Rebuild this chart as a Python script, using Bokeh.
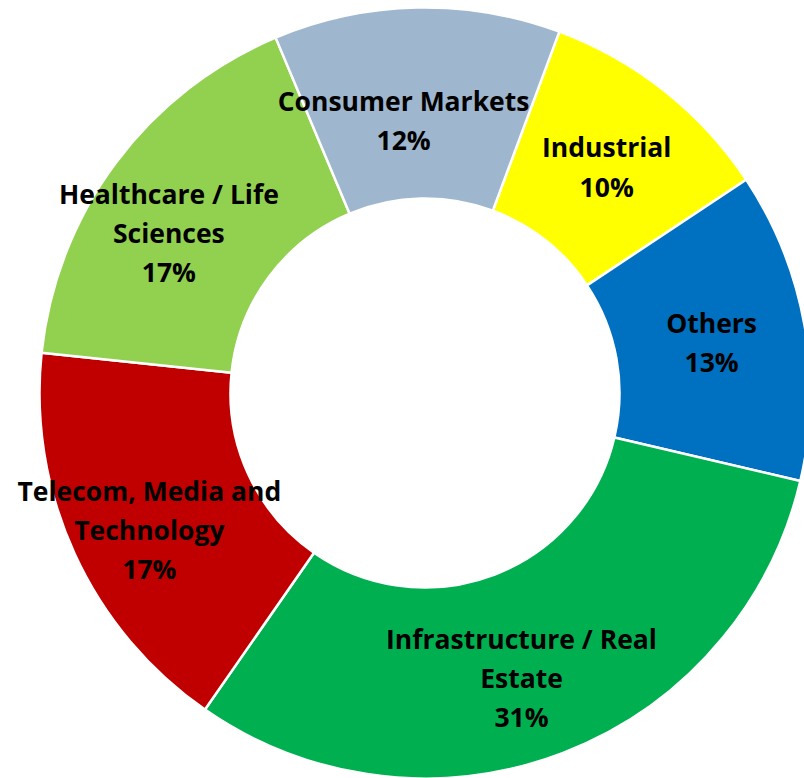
import math
from bokeh.plotting import figure
from bokeh.models import Range1d, ColumnDataSource
from bokeh.core.properties import value
from bokeh.embed import file_html
from bokeh.resources import INLINE

# Data (clockwise order starting just right of the top)
sectors = ["Industrial", "Others", "Infrastructure / Real\nEstate",
           "Telecom, Media and\nTechnology", "Healthcare / Life\nSciences",
           "Consumer Markets"]
shares = [10, 13, 31, 17, 17, 12]
colors = ["#FFFF00", "#0070C0", "#00B050", "#C00000", "#92D050", "#9FB7CE"]

# styling: label placement relative to each slice's mid-angle
label_radius = [290, 291, 301, 308, 302, 273]
label_turn = [0.4, 0.2, 2.3, -1.9, -4.6, -3.3]   # degrees

W, H = 804, 778
cx, cy = 424.5, 385.5
r_out, r_in = 385.5, 194.5
first_angle = 20.4  # degrees clockwise from 12 o'clock

total = float(sum(shares))
starts, ends, lx, ly, labels = [], [], [], [], []
acc = first_angle
for name, v, rl, dt in zip(sectors, shares, label_radius, label_turn):
    a0 = acc
    a1 = acc + v / total * 360.0
    acc = a1
    starts.append(math.radians(90 - a1))
    ends.append(math.radians(90 - a0))
    mid = math.radians((a0 + a1) / 2 + dt)
    lx.append(cx + rl * math.sin(mid))
    ly.append(cy + rl * math.cos(mid))
    labels.append(f"{name}\n{v}%")

src = ColumnDataSource(dict(start=starts, end=ends, color=colors,
                            x=[cx] * len(shares), y=[cy] * len(shares)))
lab = ColumnDataSource(dict(x=lx, y=ly, text=labels))

p = figure(width=W, height=H, x_range=Range1d(0, W), y_range=Range1d(0, H),
           x_axis_type=None, y_axis_type=None, toolbar_location=None,
           output_backend="svg", min_border=0)
p.grid.visible = False
p.outline_line_color = None
p.background_fill_color = "white"
p.border_fill_color = "white"

p.annular_wedge(x="x", y="y", inner_radius=r_in, outer_radius=r_out,
                start_angle="start", end_angle="end", direction="anticlock",
                fill_color="color", line_color="white", line_width=2.5,
                source=src)

p.text(x="x", y="y", text="text", source=lab, text_align="center",
       text_baseline="middle", text_font=value("Open Sans"),
       text_font_style="bold", text_font_size="26.5px",
       text_line_height=1.085, text_color="black")

open("out.html", "w").write(file_html(p, INLINE))
